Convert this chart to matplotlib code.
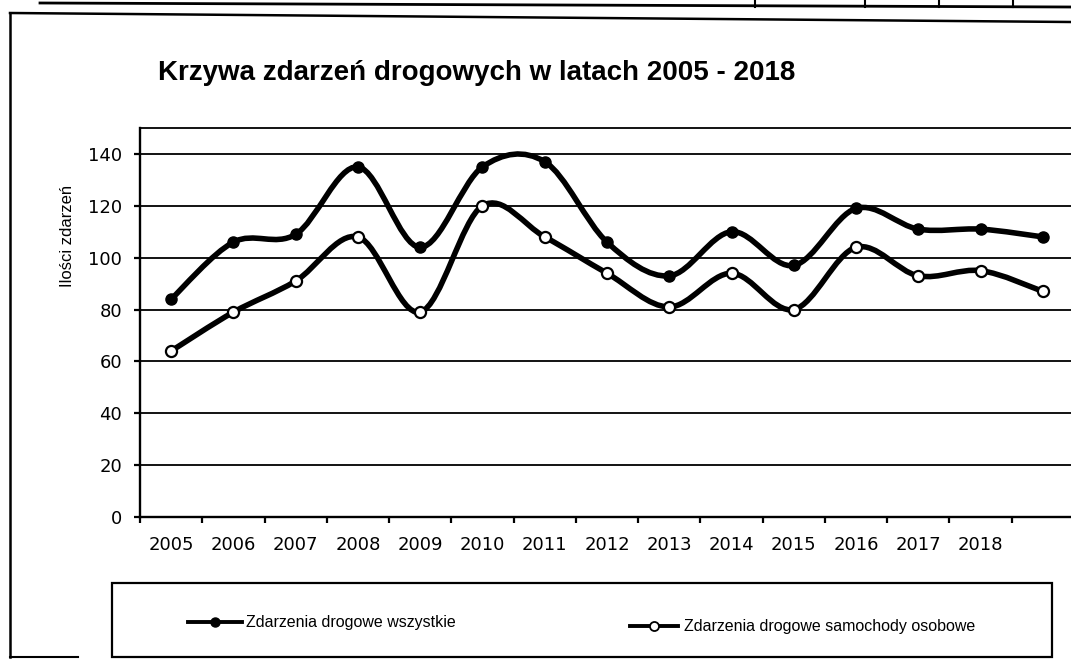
import numpy as np
import matplotlib
matplotlib.use('Agg')
import matplotlib.pyplot as plt
from matplotlib.path import Path
from matplotlib.patches import PathPatch, Rectangle
from matplotlib.lines import Line2D

# ---------------- data ----------------
categories = ['2005', '2006', '2007', '2008', '2009', '2010', '2011', '2012',
              '2013', '2014', '2015', '2016', '2017', '2018', '']
all_events = [84, 106, 109, 135, 104, 135, 137, 106, 93, 110, 97, 119, 111, 111, 108]
car_events = [64, 79, 91, 108, 79, 120, 108, 94, 81, 94, 80, 104, 93, 95, 87]
y_ticks = [0, 20, 40, 60, 80, 100, 120, 140]

title = 'Krzywa zdarzeń drogowych w latach 2005 - 2018'
ylabel = 'Ilości zdarzeń'
label_all = 'Zdarzenia drogowe wszystkie'
label_car = 'Zdarzenia drogowe samochody osobowe'

W, H = 1071, 665


def smooth_path(xs, ys):
    """Excel-like smoothed line: cubic Bezier through the points (Catmull-Rom tangents)."""
    pts = np.column_stack([xs, ys]).astype(float)
    n = len(pts)
    verts = [pts[0]]
    codes = [Path.MOVETO]
    for i in range(n - 1):
        p0 = pts[i - 1] if i > 0 else pts[i]
        p1 = pts[i]
        p2 = pts[i + 1]
        p3 = pts[i + 2] if i + 2 < n else pts[i + 1]
        c1 = p1 + (p2 - p0) / 6.0
        c2 = p2 - (p3 - p1) / 6.0
        verts += [c1, c2, p2]
        codes += [Path.CURVE4] * 3
    return Path(verts, codes)


fig = plt.figure(figsize=(W / 100, H / 100), dpi=100)
fig.patch.set_facecolor('white')

ax_left, ax_right, ax_top, ax_bottom = 140, 1074, 128, 517
ax = fig.add_axes([ax_left / W, 1 - ax_bottom / H,
                   (ax_right - ax_left) / W, (ax_bottom - ax_top) / H])

x = np.arange(len(categories))
ax.set_xlim(-0.5, len(categories) - 0.5)
ax.set_ylim(0, 150)

# gridlines
ax.set_yticks(y_ticks)
ax.yaxis.grid(True, color='black', linewidth=1.3)
ax.set_axisbelow(True)

# smoothed series
for vals in (all_events, car_events):
    patch = PathPatch(smooth_path(x, vals), facecolor='none', edgecolor='black',
                      linewidth=4.0, capstyle='round', joinstyle='round', zorder=3)
    ax.add_patch(patch)

ax.plot(x, all_events, linestyle='none', marker='o', markersize=8,
        markerfacecolor='black', markeredgecolor='black', zorder=4)
ax.plot(x, car_events, linestyle='none', marker='o', markersize=8,
        markerfacecolor='white', markeredgecolor='black', markeredgewidth=1.6, zorder=4)

# spines
for s in ('left', 'bottom'):
    ax.spines[s].set_linewidth(1.7)
    ax.spines[s].set_color('black')
ax.spines['top'].set_linewidth(1.3)
ax.spines['right'].set_visible(False)

# ticks
ax.set_xticks(x)
ax.set_xticklabels(categories, fontsize=13, family='DejaVu Sans')
ax.set_xticks(np.arange(-0.5, len(categories), 1.0), minor=True)
ax.tick_params(axis='x', which='major', length=0, pad=14)
ax.tick_params(axis='x', which='minor', length=4, width=1.6, direction='out')
ax.tick_params(axis='y', which='major', length=4, width=1.6, direction='out', pad=9,
               labelsize=13)
for t in ax.get_yticklabels():
    t.set_family('DejaVu Sans')

# title and y label
fig.text(158 / W, 1 - 80 / H, title, ha='left', va='baseline',
         fontsize=20, fontweight='bold', family='Liberation Sans')
fig.text(68 / W, 1 - 236 / H, ylabel, rotation=90, ha='center', va='center',
         fontsize=12, family='Liberation Sans')

# legend box
fig.add_artist(Rectangle((112 / W, 1 - 657 / H), 940 / W, 74 / H,
                         transform=fig.transFigure, facecolor='none',
                         edgecolor='black', linewidth=1.6))
h_all = Line2D([], [], color='black', linewidth=2.8, marker='o', markersize=6.5,
               markerfacecolor='black', markeredgecolor='black')
h_car = Line2D([], [], color='black', linewidth=2.8, marker='o', markersize=6.5,
               markerfacecolor='white', markeredgecolor='black', markeredgewidth=1.3)
leg1 = fig.legend(handles=[h_all], labels=[label_all], loc='center left',
                  bbox_to_anchor=(188 / W, 1 - 623 / H), frameon=False,
                  borderpad=0, borderaxespad=0, handlelength=3.4, handletextpad=0.25,
                  prop={'family': 'Liberation Sans', 'size': 11.5})
leg2 = fig.legend(handles=[h_car], labels=[label_car], loc='center left',
                  bbox_to_anchor=(630 / W, 1 - 627 / H), frameon=False,
                  borderpad=0, borderaxespad=0, handlelength=3.0, handletextpad=0.4,
                  prop={'family': 'Liberation Sans', 'size': 11.5})

# outer chart frame (scan)
def fline(xs, ys, lw=1.5):
    fig.add_artist(Line2D([v / W for v in xs], [1 - v / H for v in ys],
                          transform=fig.transFigure, color='black', linewidth=lw))

fline([10, 10], [13, 657], 1.8)
fline([10, 1071], [13, 22], 1.8)
fline([10, 78], [657, 657], 1.5)
fline([40, 1071], [3, 7], 2.0)
for xv in (755, 865, 939, 1013):
    fline([xv, xv], [0, 7], 1.5)

fig.savefig('out.png', dpi=100)
